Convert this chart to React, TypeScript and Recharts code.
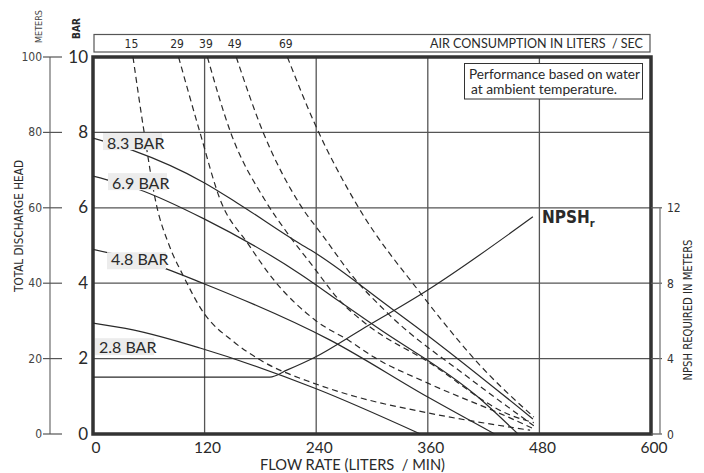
import { CartesianGrid, LabelList, Line, LineChart, ReferenceArea, XAxis, YAxis } from "recharts";

// axis ticks
const flowTicks = [0, 120, 240, 360, 480, 600];
const barTicks = [0, 2, 4, 6, 8, 10];
const meterTicks = [0, 20, 40, 60, 80, 100];
const npshTicks = [0, 4, 8, 12];

// head curves per air inlet pressure: [flow L/min, head bar]
const head83: [number, number][] = [[0, 7.85], [42, 7.53], [120, 6.66], [155, 6.13], [223, 5.04], [234, 4.88], [323, 3.29], [338, 3.02], [473, 0.4]];
const head69: [number, number][] = [[0, 6.84], [48, 6.5], [120, 5.7], [223, 4.24], [266, 3.5], [306, 2.82], [414, 0.98], [457, 0]];
const head48: [number, number][] = [[0, 4.9], [67, 4.48], [118, 4.0], [255, 2.49], [360, 0.98], [432, 0]];
const head28: [number, number][] = [[0, 2.94], [43, 2.76], [115, 2.28], [240, 1.2], [352, 0]];

// air consumption curves (L/sec): [flow L/min, head bar]
const air15: [number, number][] = [[43, 10], [55, 8], [68, 6.1], [82, 5], [97, 4.2], [118, 3.25], [151, 2.45], [180, 1.96], [237, 1.35], [277, 1.03], [360, 0.56], [449, 0.18], [470, 0.1]];
const air29: [number, number][] = [[92, 10], [115, 8], [137, 6.2], [166, 5.07], [194, 4.1], [240, 3.0], [277, 2.45], [302, 2.04], [360, 1.35], [449, 0.42], [472, 0.16]];
const air39: [number, number][] = [[123, 10], [148, 8], [185, 6.2], [209, 5.33], [237, 4.43], [263, 3.6], [292, 2.95], [360, 1.92], [449, 0.5], [474, 0.3]];
const air49: [number, number][] = [[154, 10], [183, 8], [223, 6.07], [248, 5.23], [280, 4.16], [317, 3.2], [403, 1.51], [474, 0.22]];
const air69: [number, number][] = [[209, 10], [239, 8.2], [284, 6.07], [352, 3.74], [374, 3.05], [414, 1.88], [474, 0.45]];

// NPSH required: [flow L/min, meters]
const npshReq: [number, number][] = [[0, 3.02], [190, 3.02], [209, 3.4], [237, 4.03], [288, 5.52], [360, 7.64], [473, 11.52]];

const INK = "#2a2a2a";
const HUM = "Lato, 'Open Sans', sans-serif";
const COND = "'Liberation Sans Narrow', 'DejaVu Sans Condensed', Roboto, sans-serif";

const W = 704;
const H = 473;
const MARGIN = { top: 57, right: 13, bottom: 9, left: 10 };
const X_AXIS_H = 30;
const PLOT_H = H - MARGIN.top - MARGIN.bottom - X_AXIS_H;

const pts = (pairs: [number, number][]) => pairs.map(([q, h]) => ({ q, h }));

const pos = (p: any) => ({ x: p.x ?? p.viewBox?.x, y: p.y ?? p.viewBox?.y });

const pressureCurves = [
  { name: "8.3 BAR", data: head83, off: { bx: 10, by: -5, tx: 14, ty: 11 } },
  { name: "6.9 BAR", data: head69, off: { bx: 15, by: -3, tx: 19, ty: 12.5 } },
  { name: "4.8 BAR", data: head48, off: { bx: 14, by: 3, tx: 18, ty: 16 } },
  { name: "2.8 BAR", data: head28, off: { bx: 2, by: 15, tx: 6, ty: 30 } },
];

const airCurves = [
  { name: "15", data: air15 },
  { name: "29", data: air29 },
  { name: "39", data: air39 },
  { name: "49", data: air49 },
  { name: "69", data: air69 },
];

function XTick({ x, y, payload }: any) {
  return (
    <text x={x + 3} y={y + 10.5} textAnchor="middle" fontFamily={HUM} fontSize={15.5} fill={INK}>
      {payload.value}
    </text>
  );
}

function BarTick({ x, y, payload }: any) {
  return (
    <text x={x} y={y + 5.5} textAnchor="end" fontFamily={HUM} fontSize={17} fill={INK}>
      {payload.value}
    </text>
  );
}

function MeterTick({ x, y, payload }: any) {
  return (
    <g>
      <line x1={x - 7} x2={x + 12} y1={y} y2={y} stroke="#555" strokeWidth={1.2} />
      <text x={x - 8} y={y + 4} textAnchor="end" fontFamily={COND} fontSize={12} fill="#444">
        {payload.value}
      </text>
    </g>
  );
}

function NpshTick({ x, y, payload }: any) {
  return (
    <g>
      <line x1={x} x2={x + 11} y1={y} y2={y} stroke="#555" strokeWidth={1.2} />
      {payload.value === 12 && (
        <line x1={x + 9} x2={x + 9} y1={y} y2={y + (PLOT_H * 12) / 20} stroke="#777" strokeWidth={1.3} />
      )}
      <text x={x + 16} y={y + 4.5} fontFamily={COND} fontSize={12} fill="#333">
        {payload.value}
      </text>
    </g>
  );
}

const airLabel = (text: string) => (p: any) => {
  if (p.index !== 0) return null;
  const { x, y } = pos(p);
  return (
    <text x={x - 1.5} y={y - 9} textAnchor="middle" fontFamily={COND} fontSize={12} fill={INK}>
      {text}
    </text>
  );
};

const pressureLabel = (text: string, off: { bx: number; by: number; tx: number; ty: number }) => (p: any) => {
  if (p.index !== 0) return null;
  const { x, y } = pos(p);
  return (
    <g>
      <rect x={x + off.bx} y={y + off.by} width={59} height={17} fill="#ececec" />
      <text x={x + off.tx} y={y + off.ty} fontFamily={HUM} fontSize={16} fill={INK}>
        {text}
      </text>
    </g>
  );
};

const npshLabel = (last: number) => (p: any) => {
  if (p.index !== last) return null;
  const { x, y } = pos(p);
  return (
    <text x={x + 9} y={y + 6} fontFamily={COND} fontWeight="bold" fontSize={17} fill={INK}>
      NPSH
      <tspan fontSize={11} dy={4}>r</tspan>
    </text>
  );
};

export default function App() {
  return (
    <div style={{ position: "absolute", left: 0, top: 0, width: W, height: H, background: "#fff" }}>
      <LineChart width={W} height={H} margin={MARGIN}>
        <CartesianGrid yAxisId="bar" stroke="#555" strokeWidth={1.3} />
        <XAxis
          dataKey="q"
          type="number"
          domain={[0, 600]}
          ticks={flowTicks}
          height={X_AXIS_H}
          axisLine={false}
          tickLine={false}
          tickSize={0}
          tickMargin={8}
          tick={(p: any) => <XTick {...p} />}
          allowDataOverflow
        />
        <YAxis
          yAxisId="bar"
          type="number"
          domain={[0, 10]}
          ticks={barTicks}
          width={43}
          axisLine={false}
          tickLine={false}
          tickSize={0}
          tickMargin={5}
          tick={(p: any) => <BarTick {...p} />}
          allowDataOverflow
        />
        <YAxis
          yAxisId="meters"
          type="number"
          domain={[0, 100]}
          ticks={meterTicks}
          width={40}
          axisLine={{ stroke: "#777", strokeWidth: 1.3 }}
          tickLine={false}
          tickSize={0}
          tickMargin={0}
          tick={(p: any) => <MeterTick {...p} />}
          allowDataOverflow
        />
        <YAxis
          yAxisId="npsh"
          orientation="right"
          type="number"
          domain={[0, 20]}
          ticks={npshTicks}
          width={40}
          axisLine={false}
          tickLine={false}
          tickSize={0}
          tickMargin={0}
          tick={(p: any) => <NpshTick {...p} />}
          allowDataOverflow
        />
        {airCurves.map((c) => (
          <Line
            key={c.name}
            yAxisId="bar"
            data={pts(c.data)}
            dataKey="h"
            type="monotone"
            stroke={INK}
            strokeWidth={1.2}
            strokeDasharray="6 4"
            dot={false}
            activeDot={false}
            isAnimationActive={false}
          >
            <LabelList dataKey="h" content={airLabel(c.name)} />
          </Line>
        ))}
        <Line
          yAxisId="npsh"
          data={pts(npshReq)}
          dataKey="h"
          type="monotone"
          stroke={INK}
          strokeWidth={1.2}
          dot={false}
          activeDot={false}
          isAnimationActive={false}
        >
          <LabelList dataKey="h" content={npshLabel(npshReq.length - 1)} />
        </Line>
        {pressureCurves.map((c) => (
          <Line
            key={c.name}
            yAxisId="bar"
            data={pts(c.data)}
            dataKey="h"
            type="monotone"
            stroke={INK}
            strokeWidth={1.2}
            dot={false}
            activeDot={false}
            isAnimationActive={false}
          >
            <LabelList dataKey="h" content={pressureLabel(c.name, c.off)} />
          </Line>
        ))}
        <ReferenceArea
          yAxisId="bar"
          x1={0}
          x2={600}
          y1={0}
          y2={10}
          fill="none"
          fillOpacity={0}
          stroke="#333"
          strokeWidth={3.5}
          ifOverflow="visible"
        />
      </LineChart>
      <svg
        width={W}
        height={H}
        style={{ position: "absolute", left: 0, top: 0, pointerEvents: "none" }}
      >
        <rect x={94} y={34.5} width={556} height={17.5} fill="none" stroke="#555" strokeWidth={1.2} />
        <text
          x={643}
          y={48}
          textAnchor="end"
          fontFamily={HUM}
          fontSize={13.5}
          fill={INK}
          textLength={213}
          lengthAdjust="spacingAndGlyphs"
          style={{ whiteSpace: "pre" }}
        >
          AIR CONSUMPTION IN LITERS  / SEC
        </text>
        <rect x={464.5} y={63.5} width={178} height={35.5} fill="#fff" stroke="#333" strokeWidth={1} />
        <text x={469} y={78.5} fontFamily={HUM} fontSize={12.5} fill={INK} textLength={171} lengthAdjust="spacingAndGlyphs">
          Performance based on water
        </text>
        <text x={471} y={93.5} fontFamily={HUM} fontSize={12.5} fill={INK} textLength={146} lengthAdjust="spacingAndGlyphs">
          at ambient temperature.
        </text>
        <text
          x={260}
          y={470}
          fontFamily={HUM}
          fontSize={14.5}
          fill={INK}
          textLength={185}
          lengthAdjust="spacingAndGlyphs"
          style={{ whiteSpace: "pre" }}
        >
          FLOW RATE (LITERS  / MIN)
        </text>
        <text
          transform="translate(23,226) rotate(-90)"
          textAnchor="middle"
          fontFamily={COND}
          fontSize={12.5}
          fill={INK}
          textLength={132}
          lengthAdjust="spacingAndGlyphs"
        >
          TOTAL DISCHARGE HEAD
        </text>
        <text
          transform="translate(692,310) rotate(-90)"
          textAnchor="middle"
          fontFamily={COND}
          fontSize={12}
          fill={INK}
          textLength={141}
          lengthAdjust="spacingAndGlyphs"
        >
          NPSH REQUIRED IN METERS
        </text>
        <text
          transform="translate(42,26.5) rotate(-90)"
          textAnchor="middle"
          fontFamily={COND}
          fontSize={9}
          fill="#444"
          textLength={33}
          lengthAdjust="spacingAndGlyphs"
        >
          METERS
        </text>
        <text
          transform="translate(80,28.5) rotate(-90)"
          textAnchor="middle"
          fontFamily={COND}
          fontWeight="bold"
          fontSize={11}
          fill={INK}
          textLength={21}
          lengthAdjust="spacingAndGlyphs"
        >
          BAR
        </text>
      </svg>
    </div>
  );
}
